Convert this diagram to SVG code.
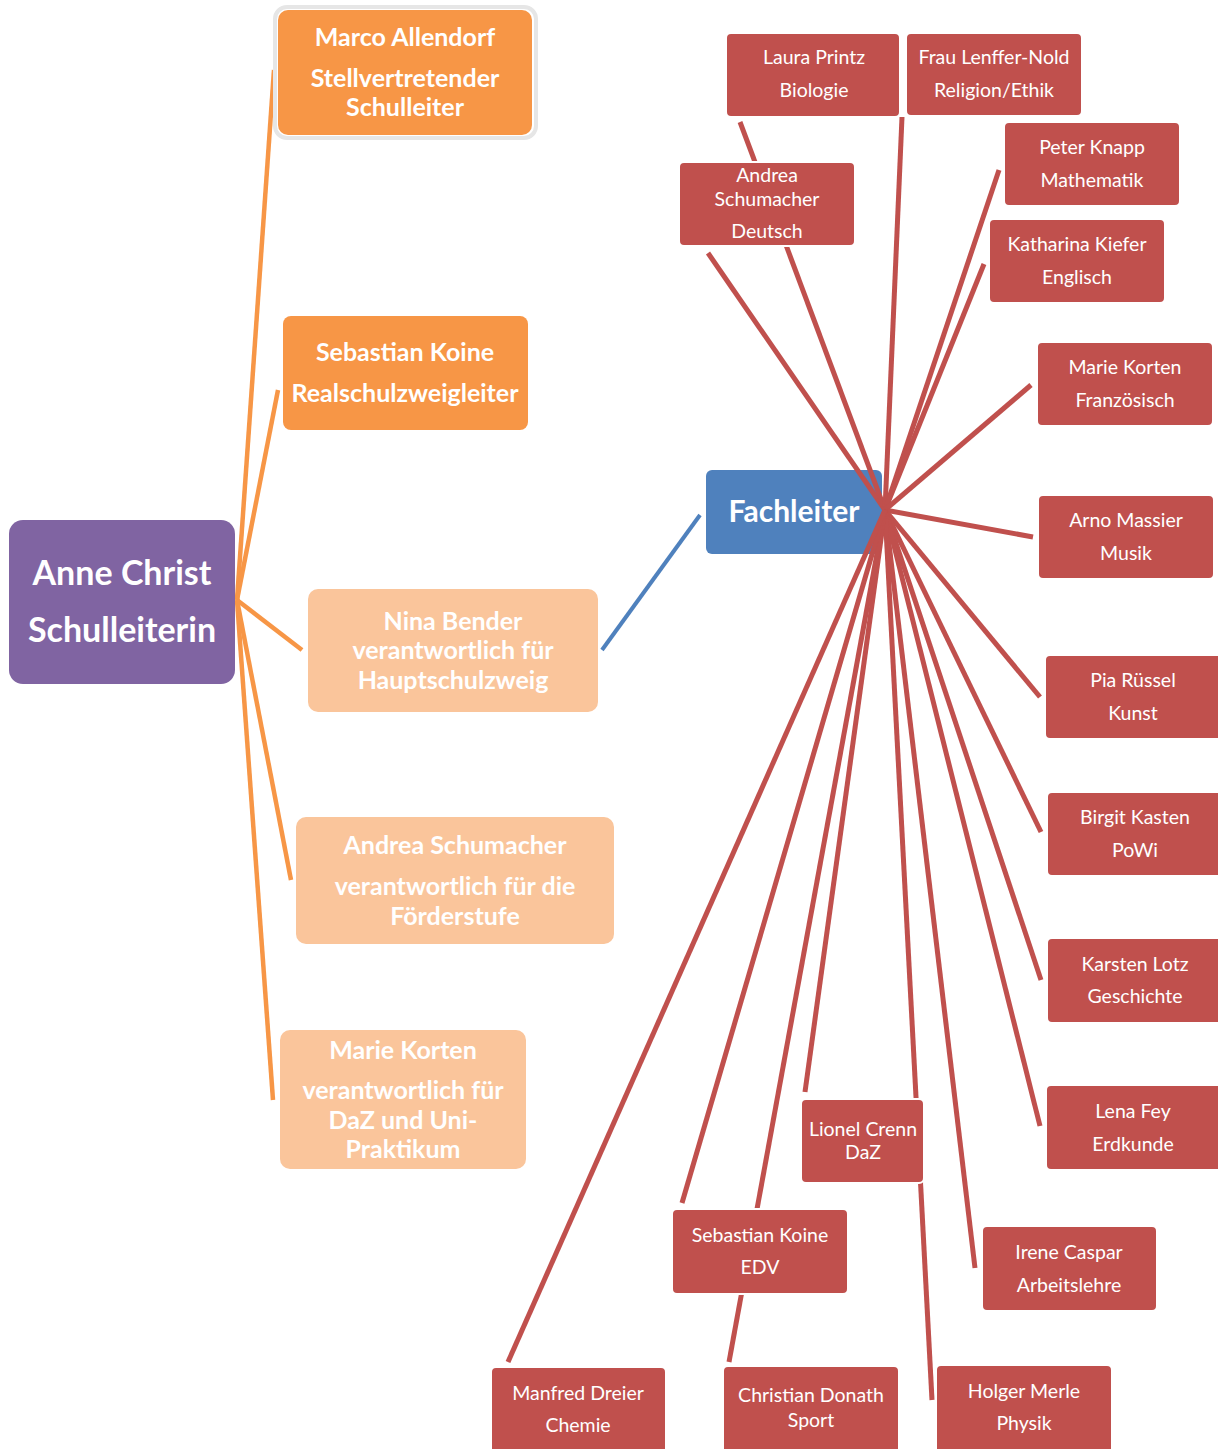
<svg xmlns="http://www.w3.org/2000/svg" width="1218" height="1449" viewBox="0 0 1218 1449">
<style>
.bg{fill:#ffffff}
.purple{fill:#8064A2}
.orange{fill:#F79646}
.light{fill:#FAC59B}
.blue{fill:#4F81BD}
.red{fill:#C0504D;stroke:#ffffff;stroke-width:2}
.tb{font-family:Lato,"Open Sans",sans-serif;font-weight:bold;fill:#ffffff;text-anchor:middle}
.tr{font-family:Lato,"Open Sans",sans-serif;font-size:19.5px;fill:#ffffff;text-anchor:middle}
.lo{stroke:#F79646;stroke-width:4.5;fill:none;stroke-linecap:butt}
.lb{stroke:#4F81BD;stroke-width:4;fill:none}
.lr{stroke:#C0504D;stroke-width:5;fill:none}
</style>
<rect class="bg" x="0" y="0" width="1218" height="1449"/>
<g id="fachleiter">
<rect class="blue" x="706" y="470" width="176" height="84" rx="6"/>
<text class="tb" x="794" y="522" font-size="30">Fachleiter</text>
</g>
<g id="connectors">
<line class="lo" x1="237" y1="600" x2="274" y2="70"/>
<line class="lo" x1="237" y1="600" x2="278" y2="390"/>
<line class="lo" x1="237" y1="600" x2="302" y2="650"/>
<line class="lo" x1="237" y1="600" x2="291" y2="880"/>
<line class="lo" x1="237" y1="600" x2="273" y2="1100"/>
<line class="lb" x1="602" y1="650" x2="700" y2="515"/>
<line class="lr" x1="885" y1="510" x2="708" y2="253"/>
<line class="lr" x1="885" y1="510" x2="740" y2="122"/>
<line class="lr" x1="885" y1="510" x2="902" y2="117"/>
<line class="lr" x1="885" y1="510" x2="999" y2="170"/>
<line class="lr" x1="885" y1="510" x2="984" y2="264"/>
<line class="lr" x1="885" y1="510" x2="1031" y2="385"/>
<line class="lr" x1="885" y1="510" x2="1033" y2="537"/>
<line class="lr" x1="885" y1="510" x2="1040" y2="697"/>
<line class="lr" x1="885" y1="510" x2="1041" y2="832"/>
<line class="lr" x1="885" y1="510" x2="1041" y2="980"/>
<line class="lr" x1="885" y1="510" x2="1040" y2="1126"/>
<line class="lr" x1="885" y1="510" x2="975" y2="1268"/>
<line class="lr" x1="885" y1="510" x2="932" y2="1400"/>
<line class="lr" x1="885" y1="510" x2="805" y2="1092"/>
<line class="lr" x1="885" y1="510" x2="729" y2="1362"/>
<line class="lr" x1="885" y1="510" x2="682" y2="1203"/>
<line class="lr" x1="885" y1="510" x2="508" y2="1362"/>
</g>
<g id="anne">
<rect class="purple" x="9" y="520" width="226" height="164" rx="14"/>
<text class="tb" x="122" y="585" font-size="34">Anne Christ</text>
<text class="tb" x="122" y="642" font-size="34">Schulleiterin</text>
</g>
<g id="marco">
<rect x="275" y="7" width="261" height="131" rx="12" fill="none" stroke="#E6E6E6" stroke-width="4"/>
<rect class="orange" x="278" y="10" width="254" height="125" rx="10"/>
<text class="tb" x="405" y="46" font-size="25">Marco Allendorf</text>
<text class="tb" x="405" y="87" font-size="25">Stellvertretender</text>
<text class="tb" x="405" y="116" font-size="25">Schulleiter</text>
</g>
<g id="sebastian-rl">
<rect class="orange" x="283" y="316" width="245" height="114" rx="8"/>
<text class="tb" x="405" y="361" font-size="25">Sebastian Koine</text>
<text class="tb" x="405" y="402" font-size="25">Realschulzweigleiter</text>
</g>
<g id="nina">
<rect class="light" x="308" y="589" width="290" height="123" rx="10"/>
<text class="tb" x="453" y="630" font-size="25">Nina Bender</text>
<text class="tb" x="453" y="659" font-size="25">verantwortlich für</text>
<text class="tb" x="453" y="689" font-size="25">Hauptschulzweig</text>
</g>
<g id="andrea-fs">
<rect class="light" x="296" y="817" width="318" height="127" rx="10"/>
<text class="tb" x="455" y="854" font-size="25">Andrea Schumacher</text>
<text class="tb" x="455" y="895" font-size="25">verantwortlich für die</text>
<text class="tb" x="455" y="925" font-size="25">Förderstufe</text>
</g>
<g id="marie-daz">
<rect class="light" x="280" y="1030" width="246" height="139" rx="10"/>
<text class="tb" x="403" y="1059" font-size="25">Marie Korten</text>
<text class="tb" x="403" y="1099" font-size="25">verantwortlich für</text>
<text class="tb" x="403" y="1129" font-size="25">DaZ und Uni-</text>
<text class="tb" x="403" y="1158" font-size="25">Praktikum</text>
</g>
<g id="laura">
<rect class="red" x="726" y="33" width="174" height="84" rx="5"/>
<text class="tr" x="814" y="64">Laura Printz</text>
<text class="tr" x="814" y="97">Biologie</text>
</g>
<g id="lenffer">
<rect class="red" x="906" y="33" width="176" height="83" rx="5"/>
<text class="tr" x="994" y="64">Frau Lenffer-Nold</text>
<text class="tr" x="994" y="97">Religion/Ethik</text>
</g>
<g id="andrea-de">
<rect class="red" x="679" y="162" width="176" height="84" rx="5"/>
<text class="tr" x="767" y="182">Andrea</text>
<text class="tr" x="767" y="206">Schumacher</text>
<text class="tr" x="767" y="238">Deutsch</text>
</g>
<g id="peter">
<rect class="red" x="1004" y="122" width="176" height="84" rx="5"/>
<text class="tr" x="1092" y="154">Peter Knapp</text>
<text class="tr" x="1092" y="187">Mathematik</text>
</g>
<g id="katharina">
<rect class="red" x="989" y="219" width="176" height="84" rx="5"/>
<text class="tr" x="1077" y="251">Katharina Kiefer</text>
<text class="tr" x="1077" y="284">Englisch</text>
</g>
<g id="marie-fr">
<rect class="red" x="1037" y="342" width="176" height="84" rx="5"/>
<text class="tr" x="1125" y="374">Marie Korten</text>
<text class="tr" x="1125" y="407">Französisch</text>
</g>
<g id="arno">
<rect class="red" x="1038" y="495" width="176" height="84" rx="5"/>
<text class="tr" x="1126" y="527">Arno Massier</text>
<text class="tr" x="1126" y="560">Musik</text>
</g>
<g id="pia">
<rect class="red" x="1045" y="655" width="180" height="84" rx="5"/>
<text class="tr" x="1133" y="687">Pia Rüssel</text>
<text class="tr" x="1133" y="720">Kunst</text>
</g>
<g id="birgit">
<rect class="red" x="1047" y="792" width="180" height="84" rx="5"/>
<text class="tr" x="1135" y="824">Birgit Kasten</text>
<text class="tr" x="1135" y="857">PoWi</text>
</g>
<g id="karsten">
<rect class="red" x="1047" y="938" width="180" height="85" rx="5"/>
<text class="tr" x="1135" y="971">Karsten Lotz</text>
<text class="tr" x="1135" y="1003">Geschichte</text>
</g>
<g id="lena">
<rect class="red" x="1046" y="1085" width="180" height="85" rx="5"/>
<text class="tr" x="1133" y="1118">Lena Fey</text>
<text class="tr" x="1133" y="1151">Erdkunde</text>
</g>
<g id="lionel">
<rect class="red" x="801" y="1099" width="123" height="84" rx="5"/>
<text class="tr" x="863" y="1136">Lionel Crenn</text>
<text class="tr" x="863" y="1159">DaZ</text>
</g>
<g id="sebastian-edv">
<rect class="red" x="672" y="1209" width="176" height="85" rx="5"/>
<text class="tr" x="760" y="1242">Sebastian Koine</text>
<text class="tr" x="760" y="1274">EDV</text>
</g>
<g id="irene">
<rect class="red" x="982" y="1226" width="175" height="85" rx="5"/>
<text class="tr" x="1069" y="1259">Irene Caspar</text>
<text class="tr" x="1069" y="1292">Arbeitslehre</text>
</g>
<g id="manfred">
<rect class="red" x="491" y="1367" width="175" height="90" rx="5"/>
<text class="tr" x="578" y="1400">Manfred Dreier</text>
<text class="tr" x="578" y="1432">Chemie</text>
</g>
<g id="christian">
<rect class="red" x="723" y="1366" width="176" height="90" rx="5"/>
<text class="tr" x="811" y="1402">Christian Donath</text>
<text class="tr" x="811" y="1427">Sport</text>
</g>
<g id="holger">
<rect class="red" x="936" y="1365" width="176" height="90" rx="5"/>
<text class="tr" x="1024" y="1398">Holger Merle</text>
<text class="tr" x="1024" y="1430">Physik</text>
</g>
</svg>
